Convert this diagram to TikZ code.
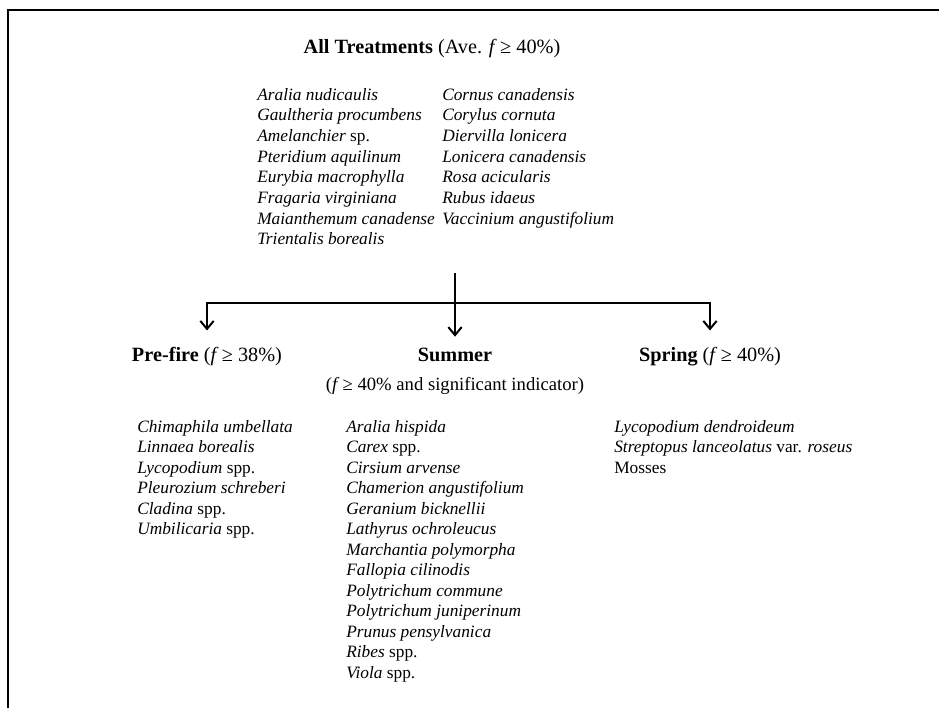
\documentclass[tikz,border=0pt]{standalone}
\usepackage{fontspec}
\setmainfont{Liberation Serif}
\usetikzlibrary{arrows.meta,positioning}
\tikzset{
>={Straight Barb[length=6pt,width=10pt]},
  heading/.style={
    anchor=base,
    inner sep=0pt,
    font=\fontsize{15.2}{17}\selectfont},
  subheading/.style={
    anchor=base,
    inner sep=0pt,
    font=\fontsize{14}{16}\selectfont},
  species/.style={
    anchor=base west,
    inner sep=0pt,
    font=\fontsize{13}{15}\selectfont},
  branch/.style={draw, line width=1.5pt, ->},
}

\begin{document}
\begin{tikzpicture}[x=0.75pt,y=-0.75pt]
		\useasboundingbox (0,0) rectangle (939,708);
		\draw[line width=1.6pt] (8,708) |- (939,10);
		% top group
		\node[heading] (all) at (432,53) {\textbf{All Treatments} (Ave. \textit{f}\,≥ 40\%)};
		\foreach \sname [count=\i] in {\textit{Aralia nudicaulis}, \textit{Gaultheria procumbens},
			{\textit{Amelanchier} sp.}, \textit{Pteridium aquilinum}, \textit{Eurybia macrophylla},
			\textit{Fragaria virginiana}, \textit{Maianthemum canadense}, \textit{Trientalis borealis}}
			\node[species] (allA-\i) at (257,{100+20.7*(\i-1)}) {\sname};
		\foreach \sname [count=\i] in {\textit{Cornus canadensis}, \textit{Corylus cornuta},
			\textit{Diervilla lonicera}, \textit{Lonicera canadensis}, \textit{Rosa acicularis},
			\textit{Rubus idaeus}, \textit{Vaccinium angustifolium}}
			\node[species] (allB-\i) at (442,{100+20.7*(\i-1)}) {\sname};
		% treatments
		\node[heading] (prefire) at (207,361) {\textbf{Pre-fire} (\textit{f}\,≥ 38\%)};
		\node[heading] (summer) at (455,361) {\textbf{Summer}};
		\node[subheading] (summer-sub) at (455,390) {(\textit{f}\,≥ 40\% and significant indicator)};
		\node[heading] (spring) at (710,361) {\textbf{Spring} (\textit{f}\,≥ 40\%)};
		\coordinate (fork) at (455,273);
		\coordinate (bar) at (455,303);
		\draw[branch, shorten >=8pt] (fork) -- (summer.north);
		\draw[branch, shorten >=12pt] (bar) -| (prefire.north);
		\draw[branch, shorten >=12pt] (bar) -| (spring.north);
		% species per treatment
		\foreach \sname [count=\i] in {\textit{Chimaphila umbellata}, \textit{Linnaea borealis},
			{\textit{Lycopodium} spp.}, \textit{Pleurozium schreberi}, {\textit{Cladina} spp.},
			{\textit{Umbilicaria} spp.}}
			\node[species] (pre-\i) at (137,{432+20.5*(\i-1)}) {\sname};
		\foreach \sname [count=\i] in {\textit{Aralia hispida}, {\textit{Carex} spp.},
			\textit{Cirsium arvense}, \textit{Chamerion angustifolium}, \textit{Geranium bicknellii},
			\textit{Lathyrus ochroleucus}, \textit{Marchantia polymorpha}, \textit{Fallopia cilinodis},
			\textit{Polytrichum commune}, \textit{Polytrichum juniperinum}, \textit{Prunus pensylvanica},
			{\textit{Ribes} spp.}, {\textit{Viola} spp.}}
			\node[species] (sum-\i) at (346,{432+20.5*(\i-1)}) {\sname};
		\foreach \sname [count=\i] in {\textit{Lycopodium dendroideum},
			{\textit{Streptopus lanceolatus} var. \textit{roseus}}, Mosses}
			\node[species] (spr-\i) at (614,{432+20.5*(\i-1)}) {\sname};
	\end{tikzpicture}
\end{document}
